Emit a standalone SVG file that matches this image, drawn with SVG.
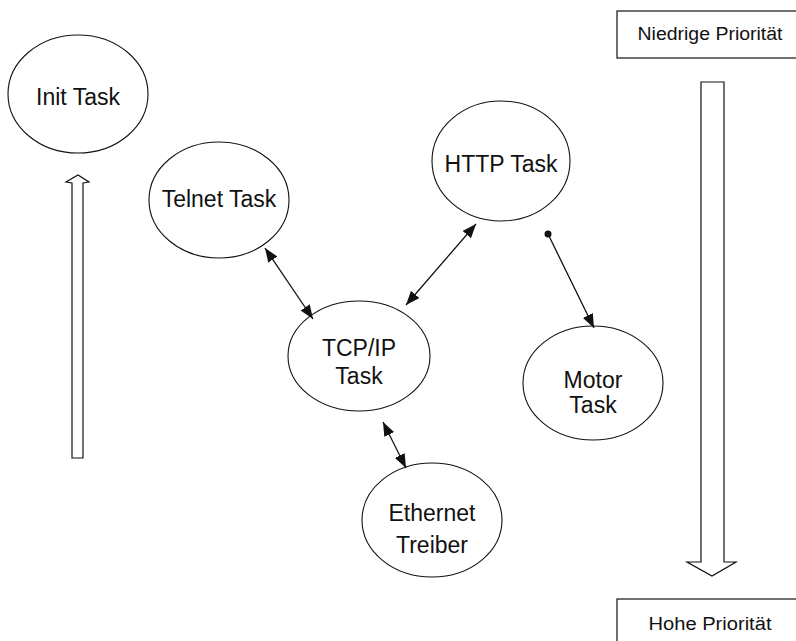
<svg xmlns="http://www.w3.org/2000/svg" width="796" height="641" viewBox="0 0 796 641">
<style>
.n{fill:#fff;stroke:#111;stroke-width:1.1}
.t{font-family:"Liberation Sans",Arial,sans-serif;font-size:23px;fill:#111;text-anchor:middle}
.s{font-family:"Liberation Sans",Arial,sans-serif;font-size:18px;fill:#111;text-anchor:middle}
.c{stroke:#111;stroke-width:1.3;fill:none}
.b{fill:#fff;stroke:#111;stroke-width:1.2}
</style>
<defs>
<marker id="ah" viewBox="0 0 14 11" refX="14" refY="5.5" markerWidth="14" markerHeight="11" markerUnits="userSpaceOnUse" orient="auto-start-reverse">
<path d="M0,0 L14,5.5 L0,11 z" fill="#111"/>
</marker>
<marker id="dot" viewBox="0 0 8 8" refX="4" refY="4" markerWidth="8" markerHeight="8" markerUnits="userSpaceOnUse">
<circle cx="4" cy="4" r="3.5" fill="#111"/>
</marker>
</defs>
<rect width="796" height="641" fill="#fff"/>
<g id="prio-low"><rect class="b" x="617" y="11" width="190" height="47"/><text class="s" x="710" y="40" textLength="145" lengthAdjust="spacingAndGlyphs">Niedrige Priorität</text></g>
<g id="prio-high"><rect class="b" x="617" y="599" width="190" height="60"/><text class="s" x="710" y="630" textLength="123" lengthAdjust="spacingAndGlyphs">Hohe Priorität</text></g>
<g id="arrow-down"><path class="b" d="M701,82 L724,82 L724,562 L736,562 L712,576 L687,562 L701,562 Z"/></g>
<g id="arrow-up"><path class="b" d="M72,458 L72,183 L66,182 L78,175 L89,182 L83,183 L83,458 Z"/></g>
<g id="init"><ellipse class="n" cx="78" cy="94" rx="70" ry="59"/><text class="t" x="78" y="105">Init Task</text></g>
<g id="telnet"><ellipse class="n" cx="219" cy="200" rx="70" ry="58"/><text class="t" x="219" y="207">Telnet Task</text></g>
<g id="http"><ellipse class="n" cx="501" cy="161" rx="69" ry="60"/><text class="t" x="501" y="172">HTTP Task</text></g>
<g id="tcpip"><ellipse class="n" cx="359" cy="356" rx="71" ry="55"/><text class="t" x="359" y="356">TCP/IP</text><text class="t" x="359" y="384">Task</text></g>
<g id="motor"><ellipse class="n" cx="593" cy="383" rx="70" ry="57"/><text class="t" x="593" y="388">Motor</text><text class="t" x="593" y="413">Task</text></g>
<g id="ethernet"><ellipse class="n" cx="432" cy="520" rx="70" ry="57"/><text class="t" x="432" y="521">Ethernet</text><text class="t" x="432" y="553">Treiber</text></g>
<g id="connectors">
<line class="c" x1="265" y1="248" x2="313" y2="319" marker-start="url(#ah)" marker-end="url(#ah)"/>
<line class="c" x1="476" y1="224" x2="406" y2="305" marker-start="url(#ah)" marker-end="url(#ah)"/>
<line class="c" x1="548" y1="234" x2="594" y2="328" marker-start="url(#dot)" marker-end="url(#ah)"/>
<line class="c" x1="383" y1="422" x2="406" y2="468" marker-start="url(#ah)" marker-end="url(#ah)"/>
</g>
</svg>
